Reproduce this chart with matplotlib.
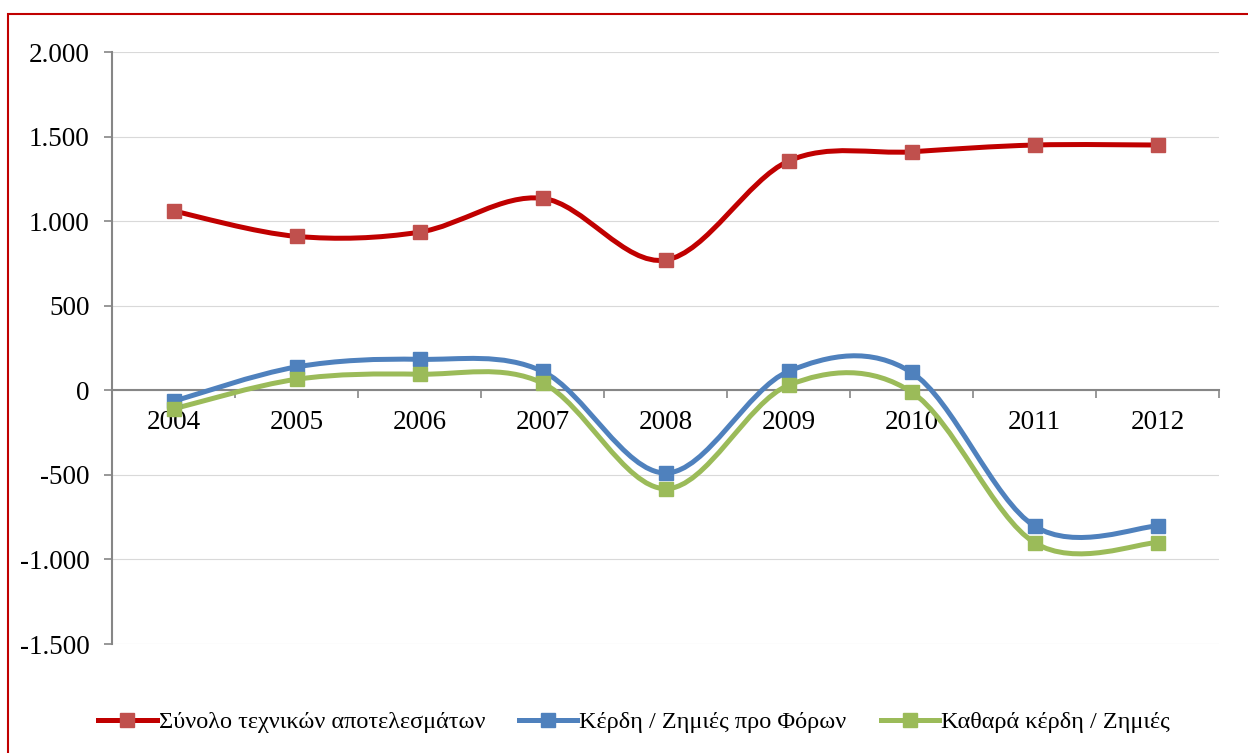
import numpy as np
import matplotlib
matplotlib.use("Agg")
import matplotlib.pyplot as plt
from matplotlib.path import Path
from matplotlib.patches import PathPatch, Rectangle
from matplotlib.lines import Line2D
from matplotlib.ticker import FuncFormatter

years = ["2004", "2005", "2006", "2007", "2008", "2009", "2010", "2011", "2012"]
technical_total = [1060, 910, 935, 1135, 770, 1355, 1410, 1450, 1450]
pre_tax = [-65, 138, 183, 112, -489, 112, 106, -803, -803]
net_profit = [-110, 65, 95, 43, -582, 30, -10, -901, -901]

labels = ["Σύνολο τεχνικών αποτελεσμάτων", "Κέρδη / Ζημιές προ Φόρων", "Καθαρά κέρδη / Ζημιές"]
line_colors = ["#C00000", "#4F81BD", "#9BBB59"]
marker_colors = ["#C0504D", "#4F81BD", "#9BBB59"]

plt.rcParams["font.family"] = ["Liberation Serif", "DejaVu Serif"]


def smooth_path(x, y):
    # excel-like smoothed line as cubic bezier segments
    pts = np.column_stack([x, y]).astype(float)
    n = len(pts)
    verts = [pts[0]]
    codes = [Path.MOVETO]
    for i in range(n - 1):
        p0 = pts[max(i - 1, 0)]
        p1 = pts[i]
        p2 = pts[i + 1]
        p3 = pts[min(i + 2, n - 1)]
        c1 = p1 + (p2 - p0) / 6
        c2 = p2 - (p3 - p1) / 6
        verts += [c1, c2, p2]
        codes += [Path.CURVE4] * 3
    return Path(verts, codes)


def main():
    fig = plt.figure(figsize=(12.48, 7.53), dpi=100)
    ax = fig.add_axes([112 / 1248, 1 - 644 / 753, (1219 - 112) / 1248, (644 - 52) / 753])

    x = np.arange(len(years))
    series = [technical_total, pre_tax, net_profit]
    for vals, lc, mc in zip(series, line_colors, marker_colors):
        patch = PathPatch(smooth_path(x, vals), facecolor="none", edgecolor=lc,
                          lw=3.6, capstyle="round", joinstyle="round", zorder=3)
        ax.add_patch(patch)
        ax.plot(x, vals, ls="none", marker="s", ms=10.5, color=mc, zorder=4)

    ax.set_xlim(-0.5, len(years) - 0.5)
    ax.set_ylim(-1500, 2000)
    ax.set_yticks(np.arange(-1500, 2001, 500))
    ax.yaxis.set_major_formatter(FuncFormatter(lambda v, p: f"{v:,.0f}".replace(",", ".")))
    ax.grid(axis="y", color="#D9D9D9", lw=0.8)
    ax.set_axisbelow(True)

    ax.spines["top"].set_visible(False)
    ax.spines["right"].set_visible(False)
    ax.spines["left"].set_color("#868686")
    ax.spines["left"].set_linewidth(1.5)
    ax.spines["bottom"].set_position(("data", 0))
    ax.spines["bottom"].set_color("#868686")
    ax.spines["bottom"].set_linewidth(1.5)
    ax.spines["bottom"].set_zorder(2)

    ax.set_xticks(np.arange(0.5, len(years), 1))
    ax.set_xticklabels([])
    ax.set_xticks(x, minor=True)
    ax.set_xticklabels(years, minor=True)
    ax.tick_params(axis="x", which="major", direction="out", length=6, width=1.2, color="#868686")
    ax.tick_params(axis="x", which="minor", length=0, pad=14, labelsize=19.5)
    ax.tick_params(axis="y", direction="out", length=6, width=1.2, color="#868686", pad=10, labelsize=19.5)

    handles = [Line2D([], [], color=lc, lw=3.6, marker="s", ms=10.5, mfc=mc, mec=mc)
               for lc, mc in zip(line_colors, marker_colors)]
    fig.legend(handles, labels, loc="center", bbox_to_anchor=(0.508, 1 - 722 / 753), ncol=3,
               frameon=False, fontsize=17.5, handlelength=2.4, handletextpad=0.08, columnspacing=1.4)

    fig.patches.append(Rectangle((8 / 1248, -0.1), 1.2, 1.1 - 14 / 753, transform=fig.transFigure,
                                 fill=False, edgecolor="#C00000", lw=1.5))

    plt.savefig("out.png", dpi=100)


if __name__ == '__main__':
    main()
